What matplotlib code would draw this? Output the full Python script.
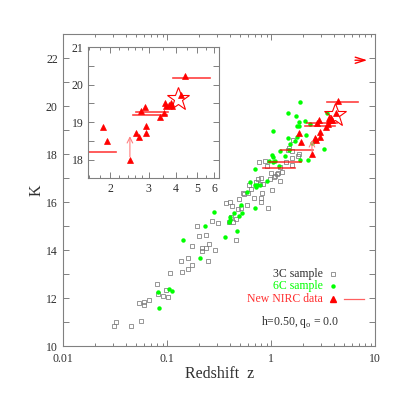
import numpy as np
import matplotlib
matplotlib.use("Agg")
import matplotlib.pyplot as plt
from matplotlib.ticker import FixedLocator, NullFormatter, FixedFormatter

plt.rcParams['font.family'] = ['Liberation Serif', 'DejaVu Serif']

# 3C sample (open grey squares): redshift, K
z3c = [0.0307, 0.0321, 0.0451, 0.0555, 0.0537, 0.0593, 0.0593, 0.0671, 0.079, 0.0808,
       0.0903, 0.0965, 0.101, 0.107, 0.135, 0.139, 0.159, 0.159, 0.173, 0.173,
       0.203, 0.191, 0.214, 0.217, 0.237, 0.253, 0.289, 0.236, 0.244, 0.270,
       0.309, 0.366, 0.401, 0.419, 0.457, 0.478, 0.392, 0.409, 0.432, 0.457,
       0.514, 0.546, 0.579, 0.597, 0.634, 0.614, 0.686, 0.712, 0.745, 0.778,
       0.802, 0.813, 0.796, 0.791, 0.838, 0.902, 0.863, 0.935, 0.993, 1.016,
       0.98, 1.06, 1.09, 1.13, 1.17, 1.21, 1.21, 1.28, 1.39, 1.57,
       1.79, 1.58, 1.63, 1.47, 1.46, 1.85, 1.57, 0.755, 0.488, 0.536]
k3c = [10.83, 11.01, 10.83, 11.04, 11.79, 11.83, 11.72, 11.92, 12.58, 12.17,
       12.10, 12.35, 12.04, 13.04, 13.54, 13.08, 13.22, 13.69, 13.38, 14.18,
       14.60, 15.03, 13.97, 14.11, 14.08, 14.25, 14.00, 14.63, 13.54, 15.21,
       15.12, 15.96, 16.03, 15.85, 14.43, 15.71, 15.18, 15.37, 15.17, 15.29,
       15.76, 16.35, 15.89, 16.40, 16.54, 16.72, 16.19, 16.83, 16.98, 16.75,
       17.00, 16.38, 16.03, 16.19, 16.76, 17.51, 17.71, 15.75, 17.21, 16.50,
       16.98, 17.05, 17.11, 17.17, 17.21, 16.88, 17.48, 17.25, 17.67, 17.86,
       17.94, 18.13, 18.60, 18.25, 18.18, 18.00, 17.55, 17.70, 16.13, 16.40]

# 6C sample (filled green dots)
z6c = [0.0818, 0.104, 0.112, 0.0832, 0.281, 0.229, 0.141, 0.205, 0.359, 0.468,
       0.404, 0.395, 0.40, 0.441, 0.486, 0.507, 0.526, 0.587, 1.02, 1.03,
       1.045, 0.697, 0.624, 0.692, 0.712, 0.733, 0.783, 0.902, 0.692, 1.19,
       0.957, 1.08, 1.89, 2.27, 1.49, 1.87, 1.46, 1.74, 2.11, 1.83,
       1.78, 1.85, 2.35, 3.41, 1.045, 1.44, 2.15, 1.78, 1.70, 1.52,
       2.46, 3.21, 1.21, 1.36]
k6c = [12.25, 12.38, 12.29, 11.60, 15.61, 15.00, 14.43, 13.67, 14.57, 14.79,
       15.37, 15.18, 15.25, 15.57, 15.44, 15.90, 15.54, 16.44, 17.98, 17.90,
       17.68, 17.39, 16.85, 16.71, 16.64, 16.73, 16.73, 16.89, 15.75, 17.53,
       17.72, 17.71, 17.76, 17.76, 18.18, 20.19, 19.71, 19.61, 19.39, 19.35,
       19.19, 19.19, 19.25, 19.71, 18.97, 18.67, 18.80, 18.71, 18.57, 18.42,
       18.46, 18.21, 18.15, 17.94]

# new NIRC data (red triangles)
znirc = [1.85, 1.93, 2.46, 2.62, 2.70, 2.76, 2.89, 2.92, 2.93, 3.38,
         3.51, 3.57, 3.62, 3.78, 3.85, 3.70, 4.21, 4.41]
knirc = [18.88, 18.50, 18.00, 18.70, 18.60, 19.31, 19.41, 18.91, 18.71, 19.14,
         19.25, 19.52, 19.43, 19.52, 19.43, 19.45, 19.73, 20.23]

# redshift ranges (horizontal bars), main panel
rng_lo = [3.41, 2.19, 2.11, 1.23, 0.96, 0.84]
rng_hi = [6.86, 4.25, 4.09, 2.53, 1.92, 1.70]
rng_k = [20.17, 19.29, 19.18, 18.18, 17.66, 17.42]

# redshift ranges, inset
ins_lo = [1.40, 2.53, 2.62, 3.89]
ins_hi = [2.12, 3.63, 3.67, 5.74]
ins_k = [18.19, 19.18, 19.27, 20.18]

# star object and lower limit
star_z, star_k = 4.10, 19.63
lim_z, lim_k0, lim_k1 = 2.46, 18.0, 18.7
# off-scale object arrow
off_z0, off_z1, off_k = 6.0, 8.9, 21.92

grey = '#808080'
txtc = '#303030'
red = '#ff0000'
green = '#00ff00'


def style_axes(ax):
    for s in ax.spines.values():
        s.set_color(grey)
        s.set_linewidth(0.8)
    ax.tick_params(which='both', direction='in', top=True, right=True,
                   color=grey, labelcolor=txtc, labelsize=8.5, width=0.7)


fig = plt.figure(figsize=(4.09, 4.09), dpi=100)
ax = fig.add_axes([0.1548, 0.1533, 0.7628, 0.7628])
ax.set_xscale('log')
ax.set_xlim(0.01, 10)
ax.set_ylim(10, 23)
style_axes(ax)
ax.tick_params(which='major', length=4.5)
ax.tick_params(which='minor', length=2.5)
ax.tick_params(axis='x', pad=4.5)
ax.tick_params(axis='y', pad=4)
ax.xaxis.set_major_locator(FixedLocator([0.01, 0.1, 1, 10]))
ax.xaxis.set_major_formatter(FixedFormatter(['0.01', '0.1', '1', '10']))
ax.set_yticks(np.arange(10, 23, 2))
ax.set_yticks(np.arange(11, 23, 2), minor=True)
ax.tick_params(axis='y', which='minor', length=4.5)

ax.plot(z3c, k3c, ls='none', marker='s', ms=2.2, mfc='none', mec='#7a7a7a', mew=0.55)
ax.plot(z6c, k6c, ls='none', marker='o', ms=3.2, mfc=green, mec='none')
for lo, hi, k in zip(rng_lo, rng_hi, rng_k):
    ax.plot([lo, hi], [k, k], color=red, lw=1.2, alpha=0.75)
ax.plot(znirc, knirc, ls='none', marker='^', ms=4.8, mfc=red, mec=red, mew=0.5)
ax.plot([star_z], [star_k], ls='none', marker='*', ms=17, mfc='none', mec=red, mew=0.8)
ax.annotate('', xy=(lim_z, lim_k1), xytext=(lim_z, lim_k0),
            arrowprops=dict(arrowstyle='->', color='#ff8080', lw=0.8))
ax.annotate('', xy=(off_z1, off_k), xytext=(off_z0, off_k),
            arrowprops=dict(arrowstyle='->,head_length=0.7,head_width=0.22',
                            color=red, lw=1.0))

ax.set_xlabel('Redshift  z', fontsize=11.5, color=txtc, labelpad=1)
ax.set_ylabel('K', fontsize=11.5, color=txtc, labelpad=1)

# legend drawn by hand
ax.text(0.831, 0.2317, '3C sample', transform=ax.transAxes, ha='right', va='center',
        fontsize=8.5, color=txtc)
ax.plot([0.865], [0.2317], transform=ax.transAxes, marker='s', ms=2.2, mfc='none',
        mec='#7a7a7a', mew=0.55)
ax.text(0.831, 0.1933, '6C sample', transform=ax.transAxes, ha='right', va='center',
        fontsize=8.5, color=green)
ax.plot([0.865], [0.1933], transform=ax.transAxes, marker='o', ms=3.2, mfc=green, mec='none')
ax.text(0.831, 0.1526, 'New NIRC data', transform=ax.transAxes, ha='right', va='center',
        fontsize=8.5, color='#ff3030')
ax.plot([0.865], [0.1526], transform=ax.transAxes, marker='^', ms=4.8, mfc=red, mec=red)
ax.plot([0.900, 0.965], [0.1526, 0.1526], transform=ax.transAxes, color='#ff6060', lw=0.9)
ax.text(0.758, 0.079, 'h=0.50, q$_\\mathregular{o}$ = 0.0', transform=ax.transAxes,
        ha='center', va='center', fontsize=8.5, color=txtc)

# inset
ins = fig.add_axes([0.2159, 0.564, 0.3196, 0.3203])
ins.set_xscale('log')
ins.set_xlim(10 ** 0.2, 10 ** 0.8)
ins.set_ylim(17.5, 21)
style_axes(ins)
ins.tick_params(which='major', length=4)
ins.tick_params(which='minor', length=2)
ins.xaxis.set_major_locator(FixedLocator([2, 3, 4, 5, 6]))
ins.xaxis.set_major_formatter(FixedFormatter(['2', '3', '4', '5', '6']))
ins.xaxis.set_minor_locator(FixedLocator([1.6, 1.8, 2.2, 2.4, 2.6, 2.8, 3.5, 4.5, 5.5]))
ins.xaxis.set_minor_formatter(NullFormatter())
ins.set_yticks([18, 19, 20, 21])
ins.set_yticks([17.5, 18.5, 19.5, 20.5], minor=True)
ins.tick_params(axis='y', which='minor', length=4)

for lo, hi, k in zip(ins_lo, ins_hi, ins_k):
    ins.plot([lo, hi], [k, k], color=red, lw=1.2, alpha=0.75)
ins.plot(znirc, knirc, ls='none', marker='^', ms=4.8, mfc=red, mec=red, mew=0.5)
ins.plot([star_z], [star_k], ls='none', marker='*', ms=17, mfc='none', mec=red, mew=0.8)
ins.annotate('', xy=(lim_z, lim_k1), xytext=(lim_z, lim_k0),
             arrowprops=dict(arrowstyle='->', color='#ff8080', lw=0.8))

fig.savefig('out.png', dpi=100)
